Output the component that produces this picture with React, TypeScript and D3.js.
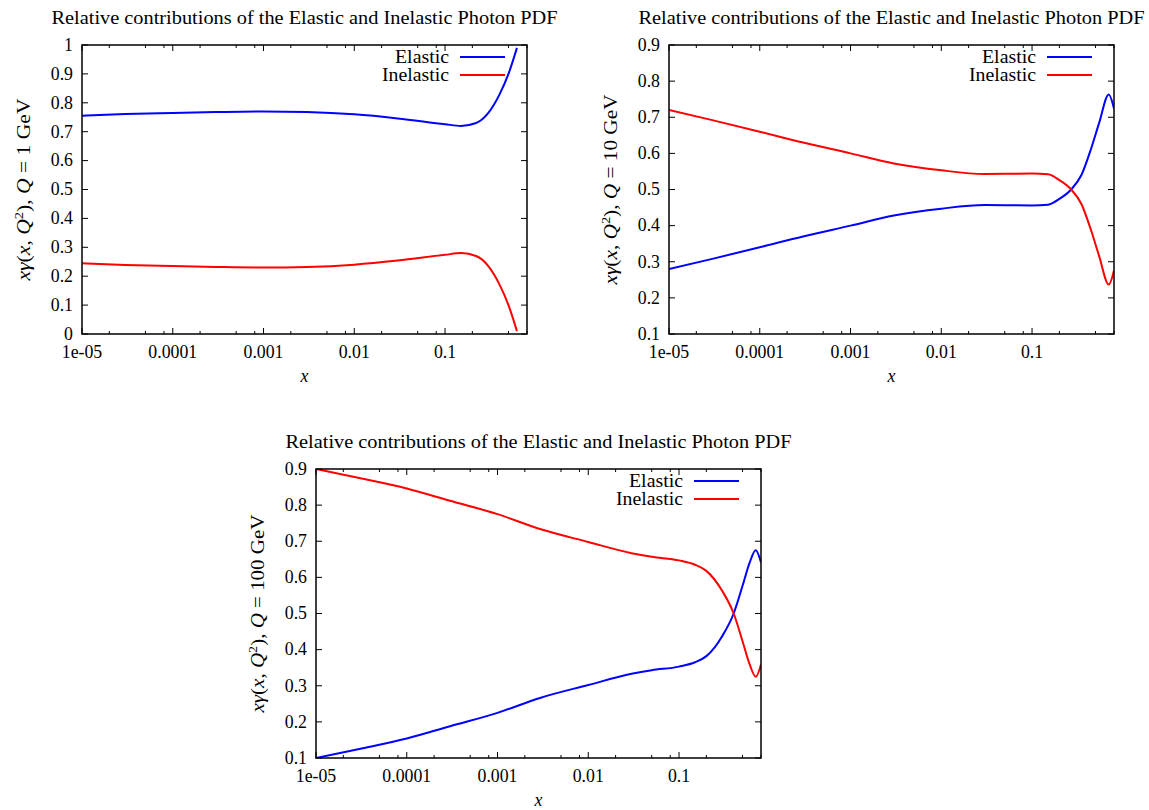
import React from "react";
import * as d3 from "d3";

// ---------- data ----------
const titleText = "Relative contributions of the Elastic and Inelastic Photon PDF";
const seriesNames = ["Elastic", "Inelastic"];
const legendWidths = [54, 67];

// Q = 1 GeV
const xQ1 = [1e-5, 3e-5, 1e-4, 3e-4, 1e-3, 3e-3, 1e-2, 3e-2, 0.1, 0.15, 0.22, 0.3, 0.4, 0.5, 0.62];
const elasticQ1 = [0.755, 0.761, 0.765, 0.768, 0.770, 0.768, 0.760, 0.746, 0.726, 0.720, 0.730, 0.765, 0.830, 0.900, 0.990];
const inelasticQ1 = [0.245, 0.239, 0.235, 0.232, 0.230, 0.232, 0.240, 0.254, 0.274, 0.280, 0.270, 0.235, 0.170, 0.100, 0.010];

// Q = 10 GeV
const xQ10 = [1e-5, 3e-5, 1e-4, 3e-4, 1e-3, 3e-3, 1e-2, 3e-2, 0.1, 0.15, 0.2, 0.27, 0.35, 0.45, 0.55, 0.7, 0.8];
const elasticQ10 = [0.280, 0.308, 0.340, 0.370, 0.400, 0.428, 0.447, 0.457, 0.456, 0.458, 0.474, 0.500, 0.540, 0.615, 0.685, 0.763, 0.724];
const inelasticQ10 = [0.720, 0.692, 0.660, 0.630, 0.600, 0.572, 0.553, 0.543, 0.544, 0.542, 0.526, 0.500, 0.460, 0.385, 0.315, 0.237, 0.276];

// Q = 100 GeV
const xQ100 = [1e-5, 3e-5, 1e-4, 3e-4, 1e-3, 3e-3, 1e-2, 3e-2, 0.05, 0.1, 0.15, 0.2, 0.3, 0.4, 0.5, 0.6, 0.7, 0.8];
const elasticQ100 = [0.100, 0.125, 0.154, 0.188, 0.225, 0.267, 0.302, 0.333, 0.343, 0.353, 0.365, 0.382, 0.438, 0.500, 0.576, 0.641, 0.675, 0.641];
const inelasticQ100 = [0.900, 0.875, 0.846, 0.812, 0.775, 0.733, 0.698, 0.667, 0.657, 0.647, 0.635, 0.618, 0.562, 0.500, 0.424, 0.359, 0.325, 0.359];

const xTickValues = [1e-5, 1e-4, 1e-3, 1e-2, 0.1];
const xTickLabels = ["1e-05", "0.0001", "0.001", "0.01", "0.1"];
const xMinorMult = [2, 5, 8];
const xDomain = [1e-5, 0.8];

const yTicksQ1 = [0, 0.1, 0.2, 0.3, 0.4, 0.5, 0.6, 0.7, 0.8, 0.9, 1];
const yTicksQ10 = [0.1, 0.2, 0.3, 0.4, 0.5, 0.6, 0.7, 0.8, 0.9];

const panels = [
  { q: "1", x: xQ1, el: elasticQ1, inel: inelasticQ1, yDomain: [0, 1], yTicks: yTicksQ1, left: 82, top: 45, ylen: 182 },
  { q: "10", x: xQ10, el: elasticQ10, inel: inelasticQ10, yDomain: [0.1, 0.9], yTicks: yTicksQ10, left: 669, top: 45, ylen: 190 },
  { q: "100", x: xQ100, el: elasticQ100, inel: inelasticQ100, yDomain: [0.1, 0.9], yTicks: yTicksQ10, left: 316, top: 469, ylen: 198 },
];

const W = 445;
const H = 289;
const FONT = "'Liberation Serif', 'DejaVu Serif', serif";
const colors = ["#0000ff", "#ff0000"];
const FS = 17.8;

function fmtY(v: number) {
  return d3.format("~g")(+v.toFixed(2));
}

function Panel({ p }: { p: any }) {
  const xs = d3.scaleLog().domain(xDomain).range([0, W]);
  const ys = d3.scaleLinear().domain(p.yDomain).range([H, 0]);
  const line = d3
    .line<[number, number]>()
    .x((d) => xs(d[0]))
    .y((d) => ys(d[1]))
    .curve(d3.curveMonotoneX);
  const series = [p.el, p.inel].map((vals: number[]) => vals.map((v, i) => [p.x[i], v] as [number, number]));
  const minors: number[] = [];
  for (let dec = 1e-5; dec < 1; dec *= 10) {
    xMinorMult.forEach((m) => {
      const v = dec * m;
      if (v >= xDomain[0] && v <= xDomain[1] * 1.0001) minors.push(v);
    });
  }
  const major = 6;
  const minor = 3;
  return (
    <g transform={`translate(${p.left},${p.top})`} fontFamily={FONT} fill="#000">
      <text x={W / 2} y={-21} textAnchor="middle" fontSize={FS} textLength={506} lengthAdjust="spacingAndGlyphs">
        {titleText}
      </text>
      <clipPath id={`clip${p.q}`}>
        <rect x={0} y={0} width={W} height={H} />
      </clipPath>
      {/* ticks */}
      {p.yTicks.map((t: number) => (
        <g key={`y${t}`}>
          <line x1={0} x2={major} y1={ys(t)} y2={ys(t)} stroke="#000" strokeWidth={1} />
          <line x1={W} x2={W - major} y1={ys(t)} y2={ys(t)} stroke="#000" strokeWidth={1} />
          <text x={-9} y={ys(t)} dy="0.33em" textAnchor="end" fontSize={FS}>
            {fmtY(t)}
          </text>
        </g>
      ))}
      {xTickValues.map((t, i) => (
        <g key={`x${t}`}>
          <line x1={xs(t)} x2={xs(t)} y1={H} y2={H - major} stroke="#000" strokeWidth={1} />
          <line x1={xs(t)} x2={xs(t)} y1={0} y2={major} stroke="#000" strokeWidth={1} />
          <text x={xs(t)} y={H + 24} textAnchor="middle" fontSize={FS}>
            {xTickLabels[i]}
          </text>
        </g>
      ))}
      {minors.map((t) => (
        <g key={`m${t}`}>
          <line x1={xs(t)} x2={xs(t)} y1={H} y2={H - minor} stroke="#000" strokeWidth={1} />
          <line x1={xs(t)} x2={xs(t)} y1={0} y2={minor} stroke="#000" strokeWidth={1} />
        </g>
      ))}
      {/* curves */}
      <g clipPath={`url(#clip${p.q})`}>
        {series.map((s: [number, number][], i: number) => (
          <path key={i} d={line(s) || ""} fill="none" stroke={colors[i]} strokeWidth={2} />
        ))}
      </g>
      {/* legend */}
      {seriesNames.map((name, i) => (
        <g key={name}>
          <text
            x={W - 78 - legendWidths[i]}
            y={12 + i * 18}
            dy="0.33em"
            textAnchor="start"
            fontSize={FS}
            textLength={legendWidths[i]}
            lengthAdjust="spacingAndGlyphs"
          >
            {name}
          </text>
          <line x1={W - 67} x2={W - 22} y1={12 + i * 18} y2={12 + i * 18} stroke={colors[i]} strokeWidth={2} />
        </g>
      ))}
      {/* frame */}
      <rect x={0} y={0} width={W} height={H} fill="none" stroke="#000" strokeWidth={1.5} />
      {/* axis labels */}
      <text x={W / 2} y={H + 48} textAnchor="middle" fontSize={FS} fontStyle="italic">
        x
      </text>
      <text
        transform={`translate(${-52},${H / 2 - p.ylen / 2}) rotate(-90)`}
        textAnchor="end"
        fontSize={FS}
        textLength={p.ylen}
        lengthAdjust="spacingAndGlyphs"
      >
        <tspan fontStyle="italic">xγ</tspan>
        <tspan>(</tspan>
        <tspan fontStyle="italic">x</tspan>
        <tspan>, </tspan>
        <tspan fontStyle="italic">Q</tspan>
        <tspan fontSize={12} dy={-7}>2</tspan>
        <tspan dy={7}>), </tspan>
        <tspan fontStyle="italic">Q</tspan>
        <tspan>{` = ${p.q} GeV`}</tspan>
      </text>
    </g>
  );
}

export default function App() {
  return (
    <svg
      width={1149}
      height={810}
      style={{ position: "absolute", left: 0, top: 0, background: "#fff" }}
    >
      <rect width={1149} height={810} fill="#fff" />
      {panels.map((p) => (
        <Panel key={p.q} p={p} />
      ))}
    </svg>
  );
}
